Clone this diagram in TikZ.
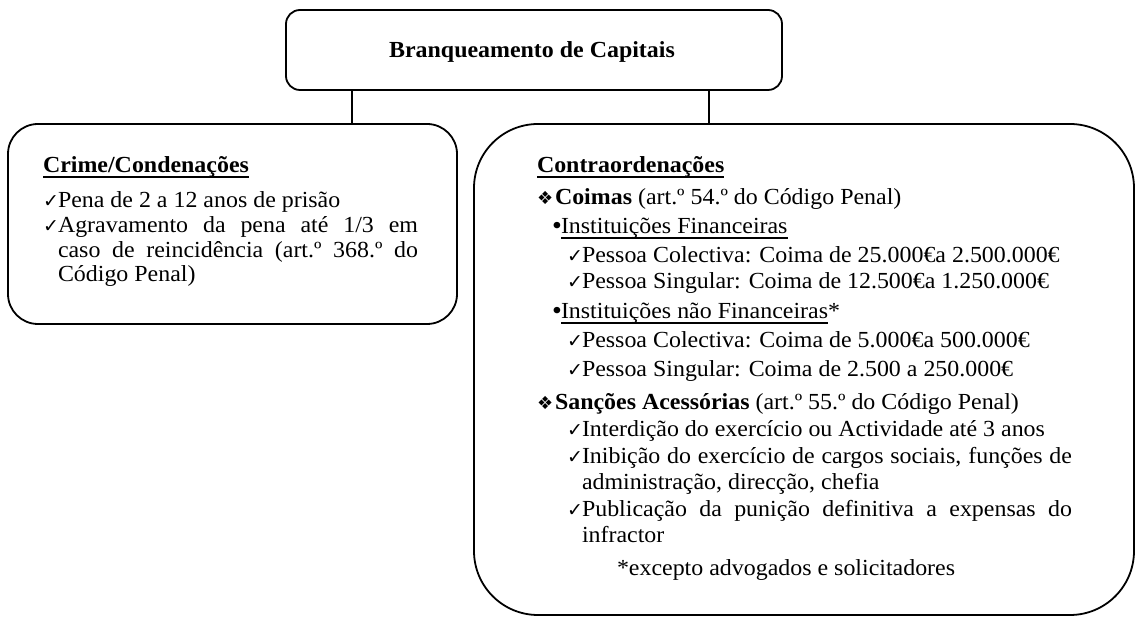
\documentclass[tikz,border=0pt]{standalone}
\usepackage{fontspec}
\setmainfont{Liberation Serif}[FakeStretch=1.04]
\newfontfamily\symfont{DejaVu Sans}
\newsavebox{\ulbox}
\newcommand{\myul}[1]{\sbox{\ulbox}{#1}\rlap{\rule[-5pt]{\wd\ulbox}{1.5pt}}\usebox{\ulbox}}
\newcommand{\fsz}{\fontsize{23}{25}\selectfont}
\newcommand{\ck}{\makebox[15pt][l]{\symfont\fontsize{19}{19}\selectfont ✓}}
\newcommand{\dia}{\makebox[18pt][l]{\symfont\fontsize{18}{18}\selectfont ❖}}
\newcommand{\bul}{\makebox[9pt][l]{\raisebox{-1pt}{\fontsize{27}{27}\selectfont •}}}
\begin{document}
\begin{tikzpicture}[x=1pt,y=-1pt,
  box/.style={draw, line width=1.8pt, inner sep=0, outer sep=0},
  ln/.style={anchor=base west, inner sep=0, outer sep=0, font=\fsz},
  link/.style={line width=1.3pt}]
\useasboundingbox (0,0) rectangle (1136,617);
% boxes
\node[box, rounded corners=14pt, minimum width=496pt, minimum height=80pt] (top) at (534,50) {};
\node[anchor=base, inner sep=0, font=\fsz\bfseries] (title) at (532,58) {Branqueamento de Capitais};
\node[box, rounded corners=30pt, minimum width=449pt, minimum height=200pt] (left) at (232.5,224) {};
\node[box, rounded corners=64pt, minimum width=660pt, minimum height=491pt] (right) at (804,369.5) {};
% connectors
\draw[link] ([xshift=-182pt]top.south) -- ([xshift=119.5pt]left.north);
\draw[link] ([xshift=175pt]top.south) -- ([xshift=-95pt]right.north);
% left box text
\node[ln] (l1) at (43,173) {\textbf{\myul{Crime/Condenações}}};
\node[ln] (l2) at (43,208) {\ck Pena de 2 a 12 anos de prisão};
\node[ln] (l3) at (43,233) {\makebox[375pt][s]{\ck Agravamento da pena até 1/3 em}};
\node[ln] (l4) at (58,258) {\makebox[360pt][s]{caso de reincidência (art.º 368.º do}};
\node[ln] (l5) at (58,282) {Código Penal)};
% right box text
\node[ln] (r1) at (537,173) {\textbf{\myul{Contraordenações}}};
\node[ln] (r2) at (537,205) {\dia\textbf{Coimas} (art.º 54.º do Código Penal)};
\node[ln] (r3) at (552,234) {\bul\myul{Instituições Financeiras}};
\node[ln] (r4) at (567,263) {\ck Pessoa Colectiva: Coima de 25.000€a 2.500.000€};
\node[ln] (r5) at (567,289) {\ck Pessoa Singular: Coima de 12.500€a 1.250.000€};
\node[ln] (r6) at (552,319) {\bul\myul{Instituições não Financeiras}*};
\node[ln] (r7) at (567,348) {\ck Pessoa Colectiva: Coima de 5.000€a 500.000€};
\node[ln] (r8) at (567,377) {\ck Pessoa Singular: Coima de 2.500 a 250.000€};
\node[ln] (r9) at (537,410) {\dia\textbf{Sanções Acessórias} (art.º 55.º do Código Penal)};
\node[ln] (r10) at (567,437) {\ck Interdição do exercício ou Actividade até 3 anos};
\node[ln] (r11) at (567,464) {\makebox[505pt][s]{\ck Inibição do exercício de cargos sociais, funções de}};
\node[ln] (r12) at (582,490) {administração, direcção, chefia};
\node[ln] (r13) at (567,517) {\makebox[505pt][s]{\ck Publicação da punição definitiva a expensas do}};
\node[ln] (r14) at (582,543) {infractor};
\node[ln] (r15) at (617,575) {*excepto advogados e solicitadores};
\end{tikzpicture}
\end{document}
